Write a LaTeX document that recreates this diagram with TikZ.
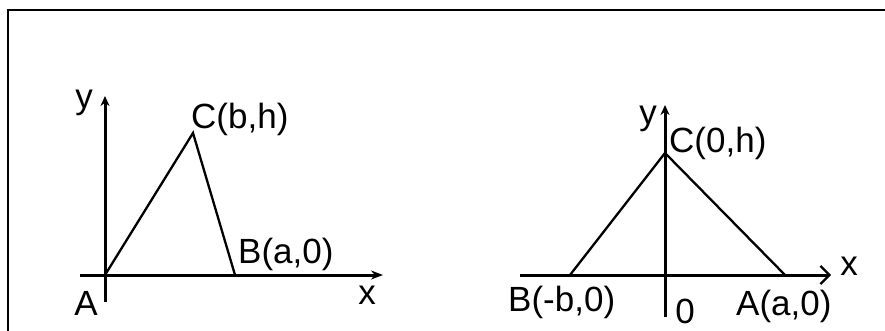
\documentclass[tikz,border=0pt]{standalone}
\usepackage{fontspec}
\setmainfont{Liberation Sans}
\usetikzlibrary{arrows.meta}
\begin{document}
\begin{tikzpicture}[x=1pt,y=-1pt,
  lbl/.style={inner sep=0pt,font=\fontsize{35}{38}\selectfont},
  axis/.style={line width=3pt},
  side/.style={line width=2.3pt}]
\clip (0,0) rectangle (885,331);
\useasboundingbox (0,0) rectangle (885,331);
\fill[white] (0,0) rectangle (885,331);
% frame
\draw[line width=2.4pt] (8,10) rectangle (900,345);
% left diagram
\coordinate (A1) at (105,275);
\coordinate (C1) at (193,133);
\coordinate (B1) at (235,275);
\coordinate (Y1b) at (105,302);
\coordinate (Y1t) at (105,96);
\coordinate (X1l) at (80,275);
\coordinate (X1r) at (383,275);
\draw[axis,-{Stealth[length=10pt,width=9pt]}] (Y1b) -- (Y1t);
\draw[axis,-{Stealth[length=12pt,width=9pt]}] (X1l) -- (X1r);
\draw[side] (A1) -- (C1) -- (B1);
\node[lbl] (ly1) at (84,103) {y};
\node[lbl,anchor=west] (lC1) at (191,119) {C(b,h)};
\node[lbl,anchor=west] (lB1) at (238,254) {B(a,0)};
\node[lbl] (lA1) at (86,303) {A};
\node[lbl] (lx1) at (367,295) {x};
% right diagram
\coordinate (O2) at (665,275);
\coordinate (C2) at (665,153);
\coordinate (B2) at (570,275);
\coordinate (A2) at (785,275);
\coordinate (Y2b) at (665,317);
\coordinate (Y2t) at (665,105);
\coordinate (X2l) at (520,275);
\coordinate (X2r) at (831,275);
\draw[axis,-{Stealth[length=10pt,width=9pt]}] (Y2b) -- (Y2t);
\draw[axis,-{Straight Barb[length=9pt,width=18pt,line width=2.3pt]}] (X2l) -- (X2r);
\draw[side] (B2) -- (C2) -- (A2);
\node[lbl] (ly2) at (648,119) {y};
\node[lbl,anchor=west] (lC2) at (669,143) {C(0,h)};
\node[lbl,anchor=west] (lB2) at (508,302) {B(-b,0)};
\node[lbl] (lO2) at (685,311) {0};
\node[lbl,anchor=west] (lA2) at (736,306) {A(a,0)};
\node[lbl] (lx2) at (849,266) {x};
\end{tikzpicture}
\end{document}
